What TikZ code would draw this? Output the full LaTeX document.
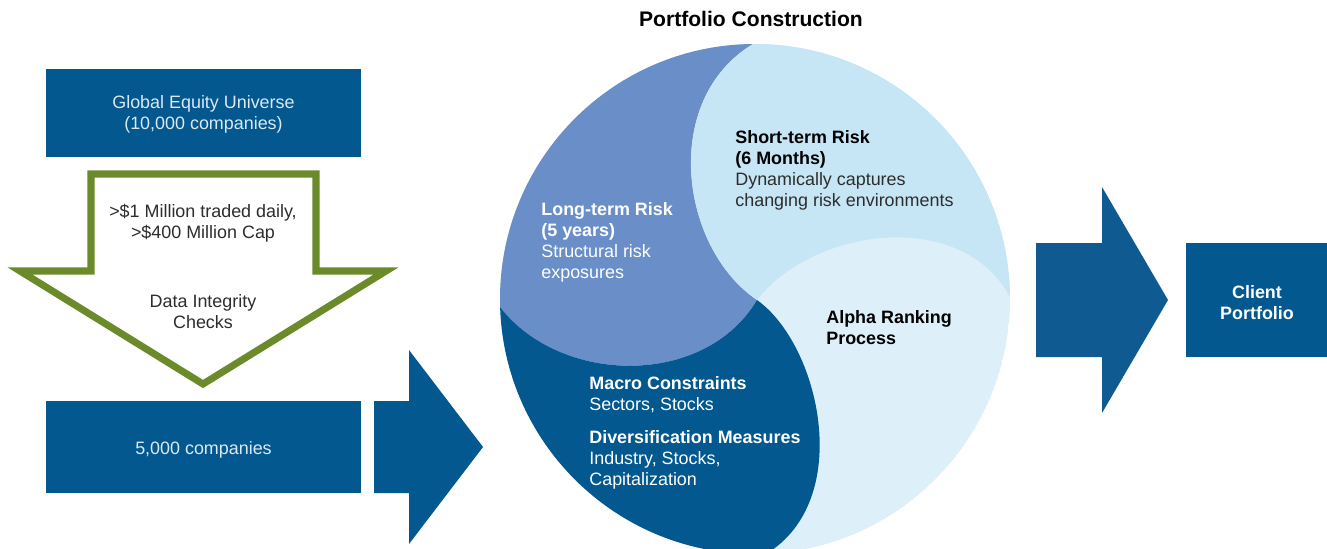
\documentclass[tikz,border=0pt]{standalone}
\usepackage{fontspec}
\setmainfont{Liberation Sans}
\usetikzlibrary{positioning}

\definecolor{boxblue}{RGB}{2,88,143}
\definecolor{arrowblue}{RGB}{16,90,146}
\definecolor{longblue}{RGB}{106,143,200}
\definecolor{shortblue}{RGB}{198,229,245}
\definecolor{alphablue}{RGB}{221,239,249}
\definecolor{filtergreen}{RGB}{107,138,42}
\definecolor{boxtext}{RGB}{220,233,243}
\definecolor{greytext}{RGB}{45,45,45}

\tikzset{
  txt/.style={font=\fontsize{10.2}{12}\selectfont, inner sep=0pt},
  bold/.style={txt, font=\bfseries\fontsize{10.2}{12}\selectfont},
  stagebox/.style={txt, fill=boxblue, text=boxtext, align=center},
  block/.style={txt, align=left, anchor=north west},
}

\begin{document}
\begin{tikzpicture}[x=0.02cm,y=-0.02cm]
\useasboundingbox (0,0) rectangle (1327,548);

% left column: universe, filter, result
\fill[boxblue] (46,69) rectangle (361,157);
\node[txt,text=boxtext,align=center] (universe) at (203.5,114) {Global Equity Universe\\(10,000 companies)};
\draw[filtergreen,line width=4pt,miter limit=20,fill=white] (91,174) -- (316,174) -- (316,271) -- (386,271) -- (203,384) -- (20,271) -- (91,271) -- cycle;
\node[txt,text=greytext,align=center] (liquidity) at (203,223) {>\$1 Million traded daily,\\>\$400 Million Cap};
\node[txt,text=greytext,align=center] (integrity) at (203,312) {Data Integrity\\Checks};
\fill[boxblue] (46,401) rectangle (361,493);
\node[txt,text=boxtext] (result) at (203.5,450) {5,000 companies};

% block arrows
\fill[boxblue] (374,401) -- (409,401) -- (409,350) -- (483,447) -- (409,544) -- (409,493) -- (374,493) -- cycle;
\fill[arrowblue] (1036,243) -- (1102,243) -- (1102,187) -- (1168,300) -- (1102,413) -- (1102,357) -- (1036,357) -- cycle;

% portfolio construction wheel
\node[bold,font=\bfseries\fontsize{12}{14}\selectfont] (title) at (751,19) {Portfolio Construction};
\coordinate (O) at (755,299);
\coordinate (P) at (757,300);
\coordinate (T) at (753,44);
\coordinate (L) at (500,307);
\coordinate (B) at (766,554);
\coordinate (R) at (1010,297);
\begin{scope}
\clip (O) circle (255);
\fill[alphablue] (O) circle (255);
\fill[longblue] (P) .. controls (705,388) and (560,385) .. (L) -- (480,307) -- (480,30) -- (753,30) -- (T) .. controls (660,100) and (680,248) .. (P) -- cycle;
\fill[boxblue] (P) .. controls (820,345) and (855,500) .. (B) -- (766,570) -- (480,570) -- (480,307) -- (L) .. controls (560,385) and (705,388) .. (P) -- cycle;
\fill[shortblue] (T) .. controls (660,100) and (680,248) .. (P) .. controls (810,230) and (960,205) .. (R) -- (1030,297) -- (1030,30) -- (753,30) -- cycle;
\end{scope}

\node[block,text=white] (longterm) at (541,202) {\textbf{Long-term Risk}\\\textbf{(5 years)}\\Structural risk\\exposures};
\node[block,text=greytext] (shortterm) at (735,130) {\textbf{\color{black}Short-term Risk}\\\textbf{\color{black}(6 Months)}\\Dynamically captures\\changing risk environments};
\node[block,text=black] (alpha) at (826,310) {\textbf{Alpha Ranking}\\\textbf{Process}};
\node[block,text=white] (macro) at (589,376) {\textbf{Macro Constraints}\\Sectors, Stocks};
\node[block,text=white] (divers) at (589,430) {\textbf{Diversification Measures}\\Industry, Stocks,\\Capitalization};

% output
\fill[boxblue] (1186,243) rectangle (1327,357);
\node[bold,text=white,align=center] (client) at (1257,303) {Client\\Portfolio};
\end{tikzpicture}
\end{document}
